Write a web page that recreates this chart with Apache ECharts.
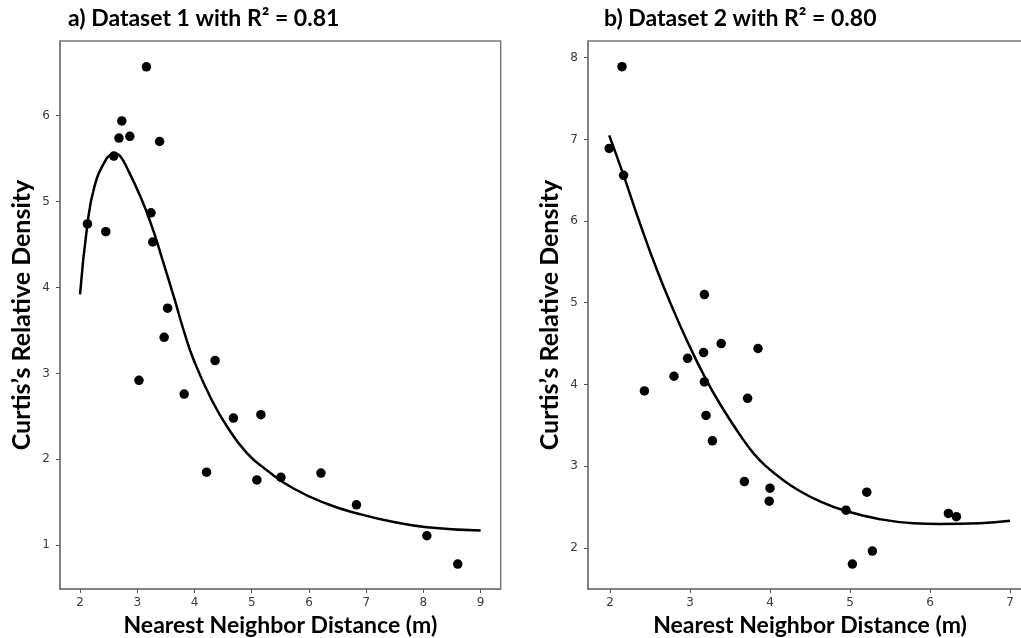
<!DOCTYPE html>
<html><head><meta charset="utf-8">
<script src="https://cdn.jsdelivr.net/npm/echarts@6/dist/echarts.min.js"></script>
<style>html,body{margin:0;padding:0;background:#fff}#c{width:1021px;height:638px}</style>
</head><body><div id="c"></div>
<script>
const titles = ['a) Dataset 1 with R\u00B2 = 0.81', 'b) Dataset 2 with R\u00B2 = 0.80'];
const xName = 'Nearest Neighbor Distance (m)';
const yName = 'Curtis\u2019s Relative Density';
const xTicksA = [2, 3, 4, 5, 6, 7, 8, 9];
const yTicksA = [1, 2, 3, 4, 5, 6];
const xTicksB = [2, 3, 4, 5, 6, 7];
const yTicksB = [2, 3, 4, 5, 6, 7, 8];

const pointsA = [
  [2.13, 4.74], [2.45, 4.65], [2.59, 5.53], [2.68, 5.74], [2.73, 5.94], [2.87, 5.76],
  [3.16, 6.57], [3.39, 5.70], [3.24, 4.87], [3.27, 4.53], [3.53, 3.76], [3.47, 3.42],
  [3.03, 2.92], [3.82, 2.76], [4.36, 3.15], [4.68, 2.48], [5.16, 2.52], [4.21, 1.85],
  [5.09, 1.76], [5.51, 1.79], [6.21, 1.84], [6.83, 1.47], [8.06, 1.11], [8.60, 0.78]
];
const curveA = [
  [2.00, 3.92], [2.13, 4.74], [2.25, 5.17], [2.42, 5.45], [2.55, 5.55], [2.62, 5.56],
  [2.70, 5.53], [2.83, 5.38], [3.06, 5.05], [3.24, 4.74], [3.41, 4.39], [3.64, 3.89],
  [3.82, 3.48], [3.99, 3.15], [4.28, 2.72], [4.57, 2.38], [4.92, 2.07], [5.27, 1.87],
  [5.73, 1.66], [6.32, 1.48], [6.90, 1.36], [7.48, 1.27], [8.06, 1.21], [9.00, 1.17]
];
const pointsB = [
  [2.15, 7.89], [1.99, 6.89], [2.17, 6.56], [3.18, 5.10], [3.39, 4.50], [3.85, 4.44],
  [3.17, 4.39], [2.97, 4.32], [2.80, 4.10], [3.18, 4.03], [2.43, 3.92], [3.72, 3.83],
  [3.20, 3.62], [3.28, 3.31], [3.68, 2.81], [4.00, 2.73], [3.99, 2.57], [4.95, 2.46],
  [5.21, 2.68], [5.28, 1.96], [5.03, 1.80], [6.23, 2.42], [6.33, 2.38]
];
const curveB = [
  [1.99, 7.05], [2.17, 6.56], [2.375, 5.97], [2.58, 5.42], [2.81, 4.87], [2.97, 4.52],
  [3.18, 4.10], [3.375, 3.76], [3.625, 3.38], [3.80, 3.15], [3.96, 2.99], [4.15, 2.84],
  [4.33, 2.72], [4.62, 2.57], [4.95, 2.45], [5.375, 2.35], [5.79, 2.30], [6.125, 2.29],
  [6.625, 2.30], [7.00, 2.33]
];

const frame = '#7a7a7a';
const labelStyle = { color: '#3a3a3a', fontFamily: 'DejaVu Sans', fontSize: 12 };
const xNameStyle = { color: '#000', fontFamily: 'Lato', fontWeight: 'bold', fontSize: 23 };
const yNameStyle = { color: '#000', fontFamily: 'Lato', fontWeight: 'bold', fontSize: 25 };
const titleStyle = { color: '#000', fontFamily: 'Lato', fontWeight: 'bold', fontSize: 23 };

function xAxis(idx, min, max, ticks) {
  return {
    type: 'value', gridIndex: idx, min: min, max: max,
    axisLine: { show: true, onZero: false, lineStyle: { color: frame, width: 1.5 } },
    axisTick: { show: true, customValues: ticks, length: 4, lineStyle: { color: '#555' } },
    axisLabel: { customValues: ticks, margin: 8, ...labelStyle },
    splitLine: { show: false },
    name: xName, nameLocation: 'middle', nameGap: 21, nameTextStyle: xNameStyle
  };
}
function yAxis(idx, min, max, ticks) {
  return {
    type: 'value', gridIndex: idx, min: min, max: max,
    axisLine: { show: true, onZero: false, lineStyle: { color: frame, width: 1.5 } },
    axisTick: { show: true, customValues: ticks, length: 4, lineStyle: { color: '#555' } },
    axisLabel: { customValues: ticks, margin: 10, ...labelStyle },
    splitLine: { show: false },
    name: yName, nameLocation: 'middle', nameGap: 26, nameTextStyle: yNameStyle
  };
}

const chart = echarts.init(document.getElementById('c'), null, { renderer: 'canvas' });
chart.setOption({
  backgroundColor: '#fff',
  animation: false,
  title: [
    { text: titles[0], left: 63, top: 2, textStyle: titleStyle },
    { text: titles[1], left: 599, top: 2, textStyle: titleStyle }
  ],
  grid: [
    { left: 60, width: 440.7, top: 41, bottom: 49, show: true, borderColor: frame, borderWidth: 1.5, backgroundColor: 'transparent', outerBoundsMode: 'none', containLabel: false },
    { left: 588, width: 444, top: 41, bottom: 49, show: true, borderColor: frame, borderWidth: 1.5, backgroundColor: 'transparent', outerBoundsMode: 'none', containLabel: false }
  ],
  xAxis: [xAxis(0, 1.65, 9.35, xTicksA), xAxis(1, 1.725, 7.275, xTicksB)],
  yAxis: [yAxis(0, 0.49, 6.87, yTicksA), yAxis(1, 1.495, 8.205, yTicksB)],
  series: [
    { type: 'line', xAxisIndex: 0, yAxisIndex: 0, data: curveA, smooth: 0.5, showSymbol: false, lineStyle: { color: '#000', width: 2.5 }, z: 2 },
    { type: 'scatter', xAxisIndex: 0, yAxisIndex: 0, data: pointsA, symbolSize: 9.5, itemStyle: { color: '#000', opacity: 1 }, z: 3 },
    { type: 'line', xAxisIndex: 1, yAxisIndex: 1, data: curveB, smooth: 0.5, showSymbol: false, lineStyle: { color: '#000', width: 2.5 }, z: 2 },
    { type: 'scatter', xAxisIndex: 1, yAxisIndex: 1, data: pointsB, symbolSize: 9.5, itemStyle: { color: '#000', opacity: 1 }, z: 3 }
  ]
});
</script>
</body></html>
